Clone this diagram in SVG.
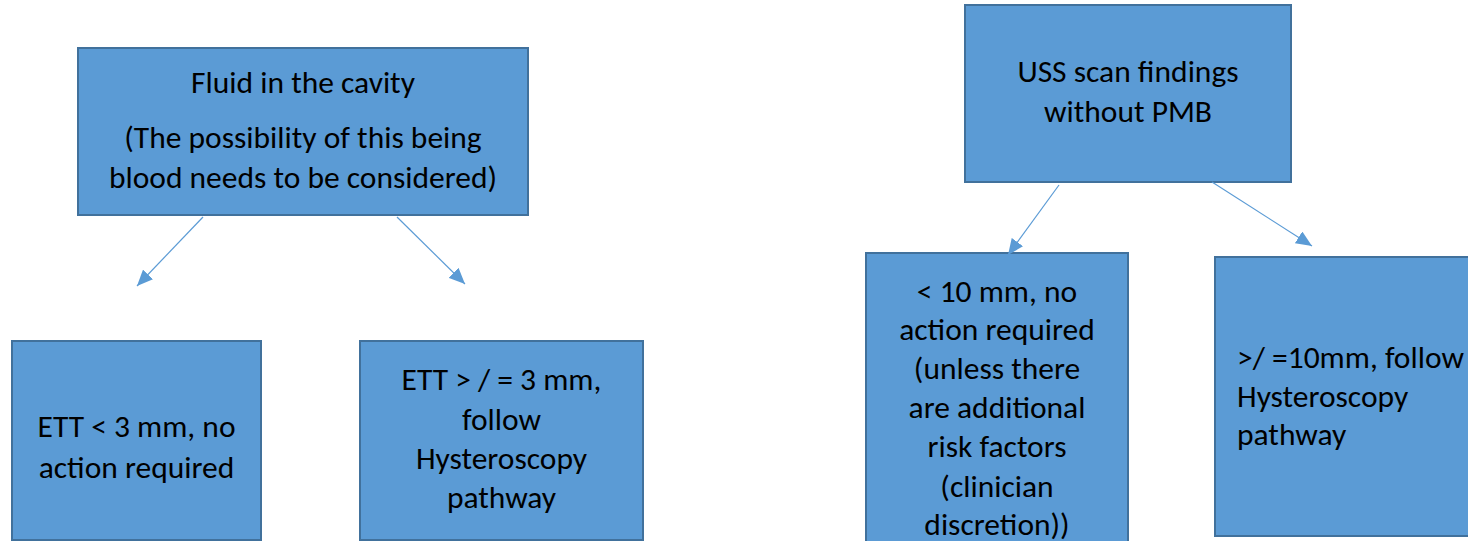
<svg xmlns="http://www.w3.org/2000/svg" width="1468" height="541" viewBox="0 0 1468 541">
<style>
.box{fill:#5B9BD5;stroke:#41719C;stroke-width:2}
.t{font-family:Carlito,"Liberation Sans",Arial,sans-serif;font-size:31.5px;fill:#000}
.c{text-anchor:middle}
.conn{stroke:#5B9BD5;stroke-width:1.2;fill:none;marker-end:url(#ah)}
</style>
<defs>
<marker id="ah" markerUnits="userSpaceOnUse" markerWidth="18" markerHeight="14" refX="16" refY="7" orient="auto">
<path d="M0,0 L16,7 L0,14 Z" fill="#5B9BD5"/>
</marker>
</defs>
<rect width="1468" height="541" fill="#fff"/>
<g id="n1">
<rect class="box" x="78" y="48" width="450" height="167"/>
<text class="t c" x="303" y="93">Fluid in the cavity</text>
<text class="t c" x="303" y="148">(The possibility of this being</text>
<text class="t c" x="303" y="188">blood needs to be considered)</text>
</g>
<g id="n2">
<rect class="box" x="12" y="341" width="249" height="199"/>
<text class="t c" x="136.5" y="437">ETT &lt; 3 mm, no</text>
<text class="t c" x="136.5" y="478">action required</text>
</g>
<g id="n3">
<rect class="box" x="360" y="341" width="283" height="199"/>
<text class="t c" x="501.5" y="390">ETT &gt; / = 3 mm,</text>
<text class="t c" x="501.5" y="430">follow</text>
<text class="t c" x="501.5" y="469">Hysteroscopy</text>
<text class="t c" x="501.5" y="508">pathway</text>
</g>
<g id="n4">
<rect class="box" x="965" y="5" width="326" height="177"/>
<text class="t c" x="1128" y="82">USS scan findings</text>
<text class="t c" x="1128" y="122">without PMB</text>
</g>
<g id="n5">
<rect class="box" x="866" y="253" width="262" height="295"/>
<text class="t c" x="997" y="302">&lt; 10 mm, no</text>
<text class="t c" x="997" y="340">action required</text>
<text class="t c" x="997" y="379">(unless there</text>
<text class="t c" x="997" y="418">are additional</text>
<text class="t c" x="997" y="457">risk factors</text>
<text class="t c" x="997" y="497">(clinician</text>
<text class="t c" x="997" y="535">discretion))</text>
</g>
<g id="n6">
<rect class="box" x="1215" y="257" width="270" height="279"/>
<text class="t" x="1237" y="368">&gt;/ =10mm, follow</text>
<text class="t" x="1237" y="407">Hysteroscopy</text>
<text class="t" x="1237" y="445">pathway</text>
</g>
<g id="connectors">
<line class="conn" x1="203" y1="217" x2="137" y2="286"/>
<line class="conn" x1="397" y1="217" x2="465" y2="284"/>
<line class="conn" x1="1059" y1="185" x2="1008" y2="255"/>
<line class="conn" x1="1212" y1="182" x2="1312" y2="246"/>
</g>
</svg>
